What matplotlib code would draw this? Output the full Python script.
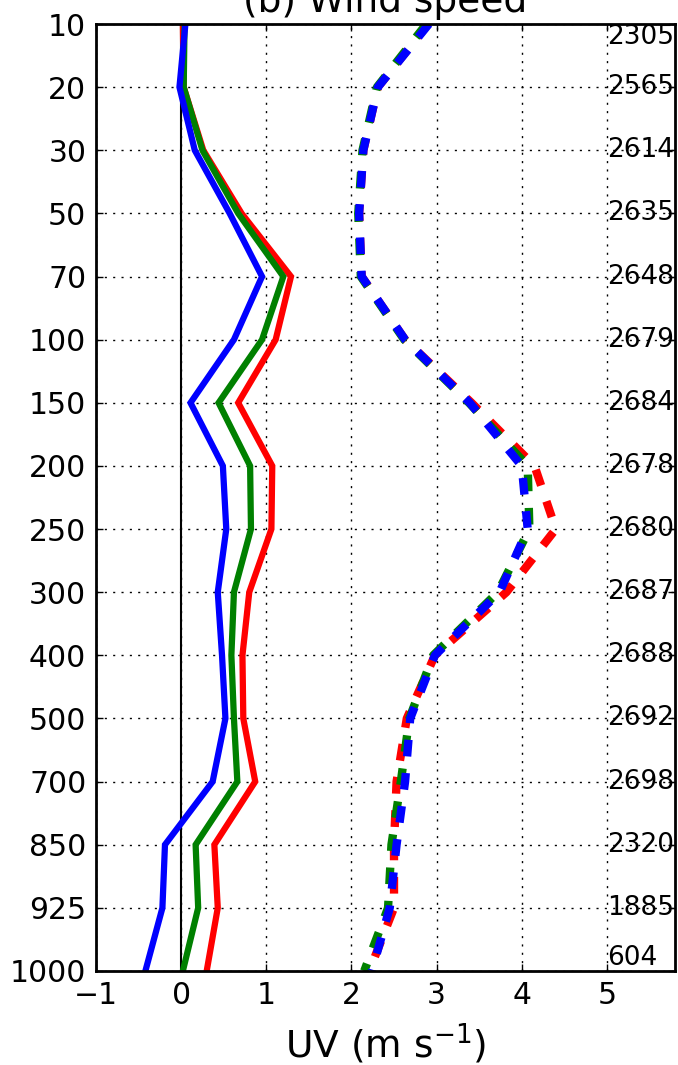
import matplotlib
matplotlib.use("Agg")
import matplotlib.pyplot as plt
import numpy as np

levels = ["10", "20", "30", "50", "70", "100", "150", "200", "250", "300",
          "400", "500", "700", "850", "925", "1000"]
counts = ["2305", "2565", "2614", "2635", "2648", "2679", "2684", "2678",
          "2680", "2687", "2688", "2692", "2698", "2320", "1885", "604"]

# solid lines (mean bias-like)
solid_red = [0.02, 0.03, 0.26, 0.71, 1.29, 1.11, 0.67, 1.07, 1.06, 0.80,
             0.72, 0.73, 0.87, 0.39, 0.43, 0.30]
solid_green = [0.04, 0.03, 0.25, 0.67, 1.20, 0.95, 0.44, 0.81, 0.82, 0.62,
               0.59, 0.62, 0.66, 0.17, 0.20, 0.02]
solid_blue = [0.05, -0.02, 0.16, 0.57, 0.95, 0.62, 0.11, 0.49, 0.53, 0.43,
              0.48, 0.52, 0.37, -0.19, -0.22, -0.42]

# dashed lines (rmse-like)
dash_red = [2.90, 2.31, 2.14, 2.09, 2.12, 2.63, 3.41, 4.15, 4.40, 3.82,
            2.98, 2.65, 2.53, 2.50, 2.50, 2.21]
dash_green = [2.88, 2.30, 2.13, 2.08, 2.11, 2.62, 3.38, 4.07, 4.09, 3.72,
              2.96, 2.68, 2.58, 2.47, 2.43, 2.15]
dash_blue = [2.91, 2.31, 2.14, 2.09, 2.12, 2.63, 3.39, 4.00, 4.07, 3.74,
             2.98, 2.69, 2.63, 2.53, 2.45, 2.24]

plt.rcParams['font.family'] = ['DejaVu Sans']

fig = plt.figure(figsize=(6.78, 10.65), dpi=100)
ax = fig.add_axes([96/678, 1 - 971/1065, (675 - 96)/678, (971 - 24)/1065])

y = np.arange(len(levels))

ax.axvline(0, color='black', lw=1.5, zorder=1)

for vals, c in [(solid_red, 'red'), (solid_green, 'green'), (solid_blue, 'blue')]:
    ax.plot(vals, y, color=c, lw=4.5, solid_joinstyle='miter', zorder=3)
for vals, c in [(dash_red, 'red'), (dash_green, 'green'), (dash_blue, 'blue')]:
    ax.plot(vals, y, color=c, lw=6, dashes=(2, 2), zorder=3)

for i, t in enumerate(counts):
    if i == 0:
        va = 'top'
    elif i == len(counts) - 1:
        va = 'bottom'
    else:
        va = 'center'
    ax.text(5.0, y[i], t, fontsize=19, ha='left', va=va, clip_on=False, zorder=4)

ax.set_xlim(-1, 5.8)
ax.set_ylim(len(levels) - 1, 0)
ax.set_yticks(y)
ax.set_yticklabels(levels)
ax.set_xticks([-1, 0, 1, 2, 3, 4, 5])
ax.set_xticklabels(['\u22121', '0', '1', '2', '3', '4', '5'])
ax.tick_params(direction='in', length=5, width=1, labelsize=21.5, pad=7,
               top=True, right=True)
ax.grid(True, color='black', linestyle=(0, (1.5, 4.5)), lw=1)
for s in ax.spines.values():
    s.set_linewidth(2)
    s.set_zorder(5)

ax.set_xlabel('UV (m s$^{-1}$)', fontsize=27, labelpad=8)
ax.set_title('(b) Wind speed', fontsize=27, pad=9)

fig.savefig('out.png', dpi=100)
